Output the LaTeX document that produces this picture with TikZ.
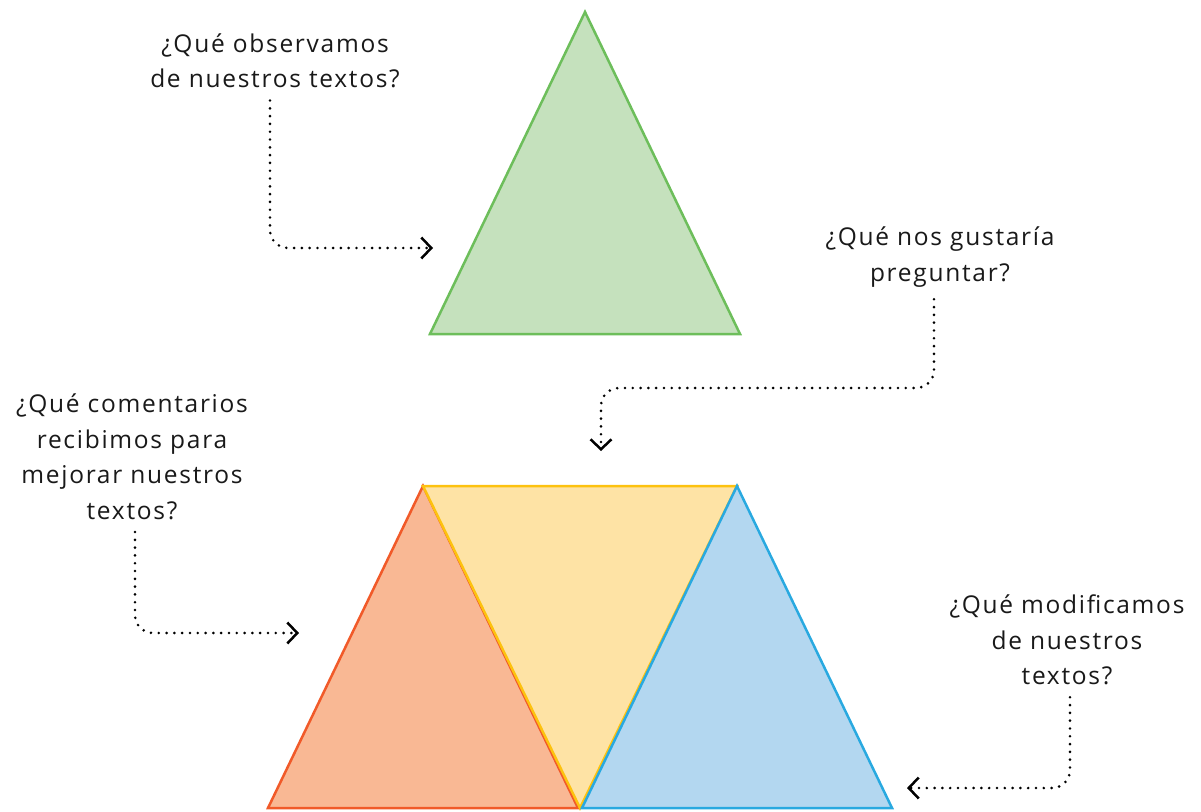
\documentclass[tikz,border=0pt]{standalone}
\usepackage{fontspec}
\setmainfont{Open Sans}[LetterSpace=7]
\usetikzlibrary{arrows.meta}

\definecolor{grnfill}{HTML}{C5E1BD}
\definecolor{grnline}{HTML}{6DBE5B}
\definecolor{orgfill}{HTML}{F9B894}
\definecolor{orgline}{HTML}{F15A29}
\definecolor{ylwfill}{HTML}{FEE3A5}
\definecolor{ylwline}{HTML}{FDC20F}
\definecolor{blufill}{HTML}{B3D7F0}
\definecolor{bluline}{HTML}{29A9E0}

\begin{document}
\begin{tikzpicture}[x=1pt,y=-1pt]
\tikzstyle{question}=[align=center, font=\fontsize{24.5}{35.5}\selectfont, text=black!90, inner sep=4pt]
\tikzstyle{pointer}=[line width=2.9pt, line cap=round, dash pattern=on 0pt off 7.8pt, rounded corners=18pt, -{Straight Barb[length=10pt,width=21pt,line width=2.5pt]}]
\tikzstyle{tri}=[line width=2.5pt, line join=miter]
\useasboundingbox (0,0) rectangle (1201,811);
% triangle corners
\coordinate (gtop) at (585,12);
\coordinate (gleft) at (430,334);
\coordinate (gright) at (740,334);
\coordinate (otop) at (423,486);
\coordinate (oleft) at (268,808);
\coordinate (oright) at (578,808);
\coordinate (yleft) at (423,486);
\coordinate (yright) at (737,486);
\coordinate (ybottom) at (580,808);
\coordinate (btop) at (737,486);
\coordinate (bleft) at (582,808);
\coordinate (bright) at (892,808);
\filldraw[tri, draw=grnline, fill=grnfill] (gtop) -- (gleft) -- (gright) -- cycle;
\filldraw[tri, draw=orgline, fill=orgfill] (otop) -- (oleft) -- (oright) -- cycle;
\filldraw[tri, draw=ylwline, fill=ylwfill] (yleft) -- (yright) -- (ybottom) -- cycle;
\filldraw[tri, draw=bluline, fill=blufill] (btop) -- (bleft) -- (bright) -- cycle;
% questions
\node[question] (observ) at (275,61) {¿Qué observamos\\de nuestros textos?};
\node[question] (gustar) at (940,257) {¿Qué nos gustaría\\preguntar?};
\node[question] (coment) at (132,457) {¿Qué comentarios\\recibimos para\\mejorar nuestros\\textos?};
\node[question] (modif) at (1067,640) {¿Qué modificamos\\de nuestros\\textos?};
% arrow ends
\coordinate (tipA) at (433,248);
\coordinate (bendB) at (760,388);
\coordinate (tipB) at (601,451);
\coordinate (tipC) at (299,633);
\coordinate (tipD) at (907,788);
\draw[pointer] ([xshift=-5pt,yshift=-8pt]observ.south) |- (tipA);
\draw[pointer] ([xshift=-6pt,yshift=-8pt]gustar.south) |- (bendB) -| (tipB);
\draw[pointer] ([xshift=3pt,yshift=-8pt]coment.south) |- (tipC);
\draw[pointer] ([xshift=3pt,yshift=-8pt]modif.south) |- (tipD);
\end{tikzpicture}
\end{document}
